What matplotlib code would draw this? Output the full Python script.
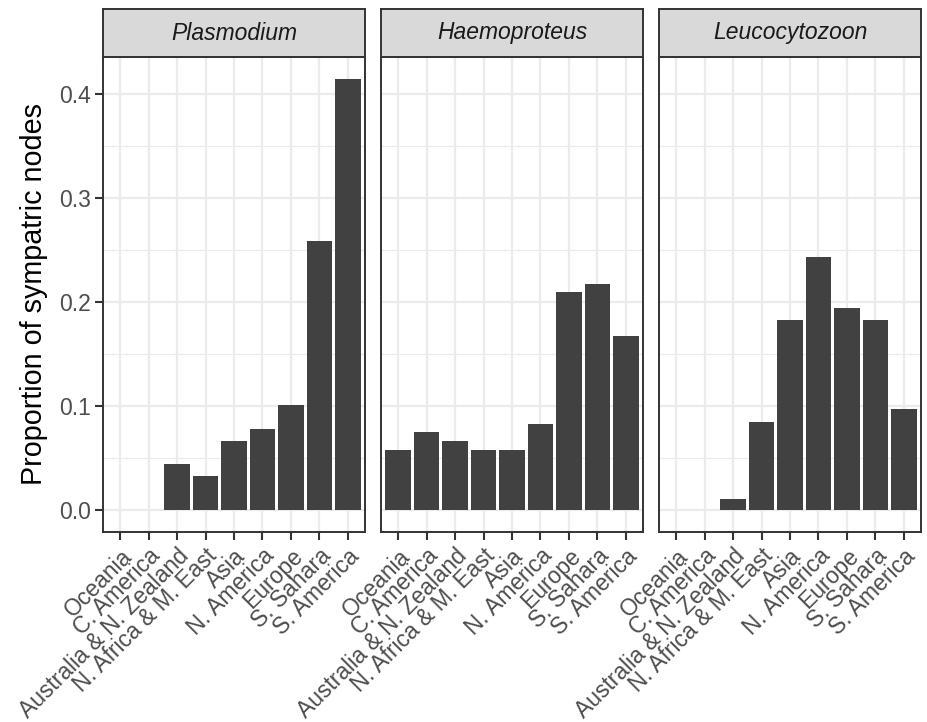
import matplotlib
matplotlib.use("Agg")
import matplotlib.pyplot as plt
import numpy as np

plt.rcParams['font.family'] = ['Liberation Sans', 'DejaVu Sans']

regions = ['Oceania', 'C. America', 'Australia & N. Zealand', 'N. Africa & M. East',
           'Asia', 'N. America', 'Europe', 'S. Sahara', 'S. America']
parasites = ['Plasmodium', 'Haemoproteus', 'Leucocytozoon']
plasmodium = [0.0, 0.0, 0.045, 0.033, 0.067, 0.078, 0.101, 0.259, 0.415]
haemoproteus = [0.058, 0.075, 0.067, 0.058, 0.058, 0.083, 0.210, 0.218, 0.168]
leucocytozoon = [0.0, 0.0, 0.011, 0.085, 0.183, 0.244, 0.195, 0.183, 0.097]
values = [plasmodium, haemoproteus, leucocytozoon]

W, H = 928, 722
fig = plt.figure(figsize=(W / 100, H / 100), dpi=100)

lefts = [103, 381, 659]
pw = 262
ptop, pbot = 57, 532
stop = 9
edge = '#333333'
x = np.arange(1, len(regions) + 1)

for k, (name, vals) in enumerate(zip(parasites, values)):
    ax = fig.add_axes([lefts[k] / W, 1 - pbot / H, pw / W, (pbot - ptop) / H])
    ax.set_facecolor('white')
    ax.bar(x, vals, width=0.9, color='#414141', zorder=3)
    ax.set_xlim(0.4, 9.6)
    ax.set_ylim(-0.0208, 0.4358)
    ax.set_yticks([0.0, 0.1, 0.2, 0.3, 0.4])
    ax.set_yticks([0.05, 0.15, 0.25, 0.35], minor=True)
    ax.set_xticks(x)
    ax.grid(which='major', color='#EBEBEB', lw=1.6, zorder=0)
    ax.grid(which='minor', axis='y', color='#EBEBEB', lw=0.8, zorder=0)
    ax.tick_params(which='minor', length=0)
    ax.tick_params(which='major', length=6, width=1.5, color=edge,
                   labelsize=16.5, labelcolor='#4D4D4D', pad=3)
    ax.set_xticklabels(regions, rotation=45, ha='right', va='top',
                       rotation_mode='anchor')
    for s in ax.spines.values():
        s.set_color(edge)
        s.set_linewidth(1.4)
    if k == 0:
        ax.set_yticklabels(['0.0', '0.1', '0.2', '0.3', '0.4'])
        ax.set_ylabel('Proportion of sympatric nodes', fontsize=20.7,
                      color='black', labelpad=8)
    else:
        ax.tick_params(axis='y', length=0, labelleft=False)

    sax = fig.add_axes([lefts[k] / W, 1 - ptop / H, pw / W, (ptop - stop) / H])
    sax.set_facecolor('#D9D9D9')
    sax.set_xticks([])
    sax.set_yticks([])
    for s in sax.spines.values():
        s.set_color(edge)
        s.set_linewidth(1.4)
    sax.text(0.5, 0.5, name, style='italic', fontsize=16.5, color='#1A1A1A',
             ha='center', va='center', transform=sax.transAxes)

fig.savefig('out.png', dpi=100)
